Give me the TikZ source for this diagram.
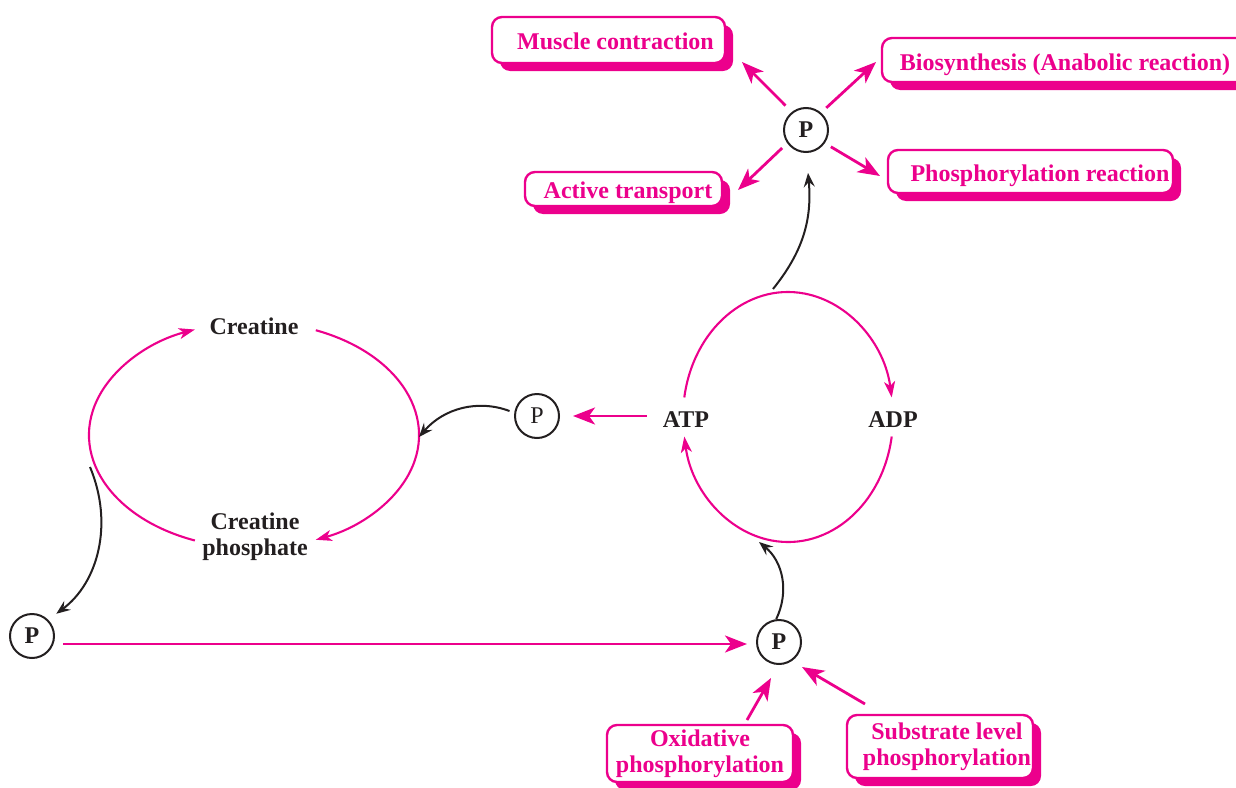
\documentclass[tikz,border=0pt]{standalone}
\usepackage{fontspec}
\setmainfont{Liberation Serif}
\usetikzlibrary{arrows.meta,shadows,calc}
\definecolor{mag}{HTML}{EC008C}
\definecolor{ink}{HTML}{231F20}
\begin{document}
\begin{tikzpicture}[x=0.5pt,y=-0.5pt,
  mbox/.style={draw=mag, line width=1.2pt, fill=white, rounded corners=5pt, text=mag,
    font=\fontsize{12}{13}\selectfont\bfseries, align=center, inner sep=0pt,
    general shadow={fill=mag, shadow xshift=4pt, shadow yshift=-4pt}},
  onel/.style={text height=12.2pt, text depth=2.7pt},
  pc/.style={circle, draw=ink, line width=1pt, minimum size=22pt, inner sep=0pt, text=ink,
    font=\fontsize{12}{13}\selectfont\bfseries},
  lab/.style={text=ink, font=\fontsize{12}{13}\selectfont\bfseries, align=center, inner sep=0pt},
  parr/.style={draw=mag, line width=1.4pt, -{Stealth[length=11pt,width=8.5pt,inset=3pt]}},
  parc/.style={draw=mag, line width=1.05pt, -{Stealth[length=8pt,width=5.5pt,inset=2.2pt]}},
  barr/.style={draw=ink, line width=1pt, -{Stealth[length=7pt,width=5.5pt,inset=2.5pt]}},
]
\useasboundingbox (0,0) rectangle (1236,787);

% boxes
\node[mbox, onel, minimum width=116.5pt, minimum height=23pt] (muscle) at (608.5,40) {\hspace*{7pt}Muscle contraction};
\node[mbox, onel, minimum width=98.5pt, minimum height=17pt] (active) at (623.5,189) {\hspace*{4.5pt}Active transport};
\node[mbox, onel, text height=13pt, minimum width=183pt, minimum height=22pt] (bio) at (1065,60) {Biosynthesis (Anabolic reaction)};
\node[mbox, onel, minimum width=142.5pt, minimum height=21.5pt] (phos) at (1030.5,171.5) {\hspace*{9.5pt}Phosphorylation reaction};
\node[mbox, minimum width=93pt, minimum height=28.5pt] (oxi) at (700,753.5) {Oxidative\\phosphorylation};
\node[mbox, minimum width=93pt, minimum height=31.5pt] (sub) at (940,746.5) {\hspace*{7pt}Substrate level\\\hspace*{7pt}phosphorylation};

% P circles
\node[pc] (ptop) at (806,130) {P};
\node[pc, font=\fontsize{12}{13}\selectfont] (pmid) at (537,416) {P};
\node[pc] (pleft) at (32,636) {P};
\node[pc] (pbot) at (779,642) {P};

% labels
\node[lab] (creat) at (254,326) {Creatine};
\node[lab] (cp) at (255,537) {Creatine\\phosphate};
\node[lab] (atp) at (686,419.5) {ATP};
\node[lab] (adp) at (893,419.5) {ADP};

% ATP / ADP cycle
\coordinate (ec) at (788,417);
\draw[parc] (ec) ++(189:105 and 125) arc[start angle=189, end angle=351, x radius=105, y radius=125];
\draw[parc] (ec) ++(9:105 and 125) arc[start angle=9, end angle=171, x radius=105, y radius=125];

% creatine cycle
\coordinate (cc) at (254,435);
\draw[parc] (cc) ++(111:165 and 113) arc[start angle=111, end angle=249, x radius=165, y radius=113];
\draw[parc] (cc) ++(-68:165 and 113) arc[start angle=-68, end angle=68, x radius=165, y radius=113];

% arrows out of top P
\coordinate (tm) at (742,62);
\coordinate (tb) at (876,62);
\coordinate (ta) at (738,190);
\coordinate (tp) at (880,176);
\draw[parr, shorten <=4.5pt] (ptop.128) -- (tm);
\draw[parr, shorten <=3.5pt] (ptop.49) -- (tb);
\draw[parr, shorten <=3.5pt] (ptop.215) -- (ta);
\draw[parr, shorten <=3.5pt] (ptop.-35) -- (tp);

% ATP -> P
\draw[parr, shorten <=8pt, shorten >=6.5pt] (pmid.east -| atp.west) -- (pmid.east);

% long line to bottom P
\coordinate (ls) at (63,644);
\draw[parr, shorten >=4.5pt] (ls) -- (ls -| pbot.west);

% into bottom P
\coordinate (os) at (747,720);
\coordinate (ot) at (771,678);
\coordinate (ss) at (865,704);
\coordinate (st) at (802,667);
\draw[parr] (os) -- (ot);
\draw[parr] (ss) -- (st);

% black curved arrows
\coordinate (a1) at (773,289);
\coordinate (a2) at (808,173);
\draw[barr] (a1) to[bend right=22] (a2);
\coordinate (cr) at (419,437);
\draw[barr, shorten <=2.5pt] (pmid.172) to[bend right=35] (cr);
\coordinate (cl) at (90,467);
\draw[barr, shorten >=5pt] (cl) to[bend left=38] (pleft.45);
\coordinate (ab) at (759,542);
\draw[barr] (pbot.97) to[bend right=38] (ab);
\end{tikzpicture}
\end{document}
